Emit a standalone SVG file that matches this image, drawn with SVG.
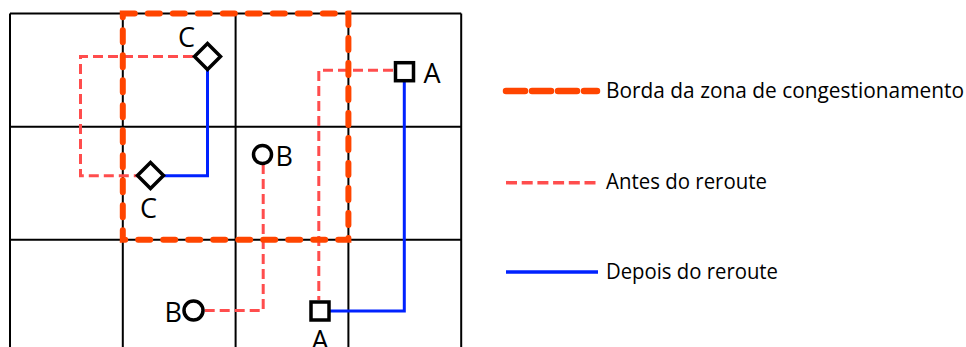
<svg xmlns="http://www.w3.org/2000/svg" width="966" height="347" viewBox="0 0 966 347">
<style>
.grid{stroke:#000;stroke-width:2;fill:none}
.zone{stroke:#FF4500;stroke-width:6;fill:none;stroke-dasharray:12 13;stroke-linecap:round}
.before{stroke:#FF4D4D;stroke-width:3;fill:none;stroke-dasharray:10 5}
.after{stroke:#0022FF;stroke-width:3;fill:none}
.node{stroke:#000;stroke-width:3.5;fill:#fff}
.lbl{font-family:"Open Sans","Noto Sans",sans-serif;font-size:27px;fill:#000}
.leg{font-family:"Open Sans","Noto Sans",sans-serif;font-size:22px;fill:#000}
</style>
<rect width="966" height="347" fill="#fff"/>
<g id="grid">
<path class="grid" d="M10 13.6 V347 M122.8 13.6 V347 M235.6 13.6 V347 M348.4 13.6 V347 M461.2 13.6 V347 M10 13.6 H461.2 M10 126.7 H461.2 M10 239.8 H461.2"/>
</g>
<g id="connectors">
<path class="before" d="M193 56.5 H80.5 V175.7 H137"/>
<path class="before" d="M393 70.3 H318.8 V300"/>
<path class="before" d="M263.2 164 V310.5 H203"/>
<path class="after" d="M207.5 70 V175.7 H164"/>
<path class="after" d="M404.3 82 V311 H330"/>
</g>
<g id="zone">
<rect class="zone" x="122.8" y="13.6" width="225.6" height="226.2"/>
</g>
<g id="nodeC1">
<path class="node" d="M207.5 43.5 L220.5 56.5 L207.5 69.5 L194.5 56.5 Z"/>
<text class="lbl" x="186.5" y="47" text-anchor="middle">C</text>
</g>
<g id="nodeC2">
<path class="node" d="M150.5 162.5 L163.5 175.5 L150.5 188.5 L137.5 175.5 Z"/>
<text class="lbl" x="148.5" y="218" text-anchor="middle">C</text>
</g>
<g id="nodeB1">
<circle class="node" cx="262.5" cy="154.5" r="9"/>
<text class="lbl" x="275.5" y="166">B</text>
</g>
<g id="nodeB2">
<circle class="node" cx="193.5" cy="310.5" r="9.5"/>
<text class="lbl" x="182" y="321.7" text-anchor="end">B</text>
</g>
<g id="nodeA1">
<rect class="node" x="395.5" y="62.7" width="18" height="18"/>
<text class="lbl" x="423.5" y="83">A</text>
</g>
<g id="nodeA2">
<rect class="node" x="311" y="302" width="18" height="18"/>
<text class="lbl" x="320" y="350" text-anchor="middle">A</text>
</g>
<g id="legend">
<path d="M506 91 H597" stroke="#FF4500" stroke-width="6.5" stroke-linecap="round" stroke-dasharray="19 7" fill="none"/>
<text class="leg" x="606" y="98" textLength="358" lengthAdjust="spacingAndGlyphs">Borda da zona de congestionamento</text>
<path d="M506 182.7 H597" stroke="#FF4D4D" stroke-width="3.5" stroke-dasharray="11 4.7" fill="none"/>
<text class="leg" x="606" y="189" textLength="161" lengthAdjust="spacingAndGlyphs">Antes do reroute</text>
<path d="M506 272 H598" stroke="#0022FF" stroke-width="3.5" fill="none"/>
<text class="leg" x="606" y="279" textLength="172" lengthAdjust="spacingAndGlyphs">Depois do reroute</text>
</g>
</svg>
